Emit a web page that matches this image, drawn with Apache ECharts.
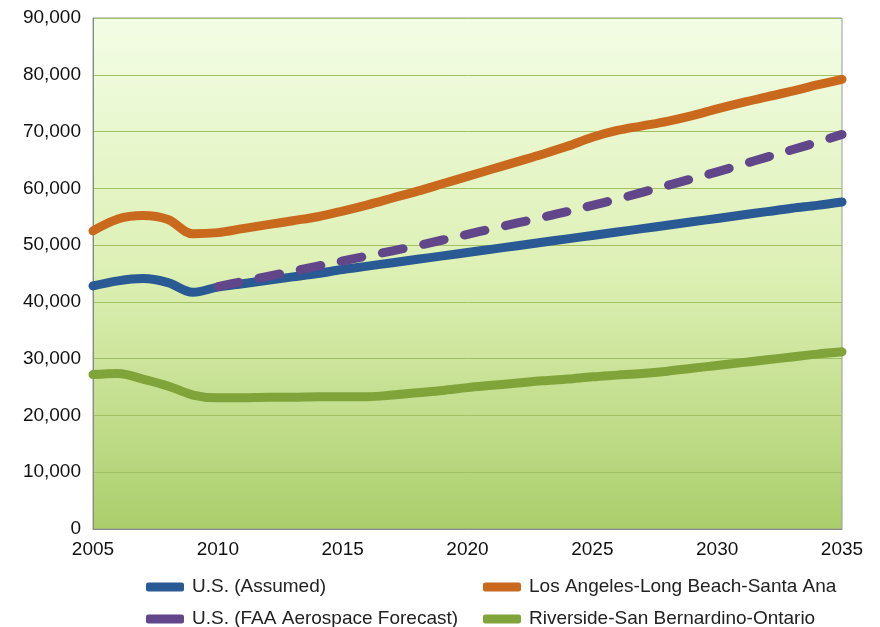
<!DOCTYPE html>
<html>
<head>
<meta charset="utf-8">
<script src="https://cdn.jsdelivr.net/npm/echarts@6/dist/echarts.min.js"></script>
<style>
  html, body { margin: 0; padding: 0; background: #fff; }
  #chart { width: 880px; height: 627px; }
</style>
</head>
<body>
<div id="chart"></div>
<script>
// years on the x axis
const years = [2005, 2006, 2007, 2008, 2009, 2010, 2011, 2012, 2013, 2014, 2015, 2016, 2017, 2018, 2019, 2020,
  2021, 2022, 2023, 2024, 2025, 2026, 2027, 2028, 2029, 2030, 2031, 2032, 2033, 2034, 2035];

// values (thousands)
const usAssumed = [42.8, 43.7, 44.1, 43.4, 41.7, 42.6, 43.2, 43.8, 44.4, 45.0, 45.7, 46.3, 46.9, 47.5, 48.1, 48.7,
  49.3, 49.9, 50.5, 51.1, 51.7, 52.3, 52.9, 53.5, 54.1, 54.7, 55.3, 55.9, 56.5, 57.0, 57.6];
const laLongBeach = [52.5, 54.6, 55.2, 54.5, 52.0, 52.2, 52.9, 53.6, 54.3, 55.0, 56.0, 57.1, 58.3, 59.5, 60.8, 62.1,
  63.4, 64.7, 66.0, 67.4, 69.0, 70.2, 71.0, 71.8, 72.8, 74.0, 75.1, 76.1, 77.1, 78.2, 79.2];
const faaYears = years.slice(5);
const usFaa = [42.7, 43.6, 44.5, 45.4, 46.3, 47.2, 48.1, 49.0, 49.9, 50.9, 51.9,
  52.9, 53.9, 54.9, 55.9, 57.0, 58.1, 59.3, 60.5, 61.7, 62.9, 64.2, 65.5, 66.8, 68.1, 69.5];
const riverside = [27.2, 27.4, 26.4, 25.2, 23.6, 23.1, 23.1, 23.2, 23.2, 23.3, 23.3, 23.3, 23.6, 24.0, 24.4, 24.9,
  25.3, 25.7, 26.1, 26.4, 26.8, 27.1, 27.4, 27.8, 28.3, 28.8, 29.3, 29.8, 30.3, 30.8, 31.2];

const names = ['U.S. (Assumed)', 'U.S. (FAA Aerospace Forecast)', 'Los Angeles-Long Beach-Santa Ana', 'Riverside-San Bernardino-Ontario'];
const colors = ['#2a5a94', '#62468a', '#c9691e', '#80a33a'];

const pairs = (xs, ys) => xs.map((x, i) => [x, ys[i] * 1000]);

const myChart = echarts.init(document.getElementById('chart'));

const lineSeries = (name, data, color, dashed) => ({
  name: name,
  type: 'line',
  data: data,
  smooth: 0.35,
  symbol: 'none',
  color: color,
  lineStyle: {
    color: color,
    width: 9,
    cap: 'round',
    join: 'round',
    type: dashed ? [21, 21] : 'solid'
  }
});

const legendBase = {
  orient: 'vertical',
  top: 576,
  height: 60,
  padding: 0,
  itemGap: 10,
  itemWidth: 38,
  itemHeight: 9,
  icon: 'roundRect',
  textStyle: { fontFamily: 'Liberation Sans', fontSize: 19, lineHeight: 22, color: '#222', padding: [0, 0, 0, 3] }
};

const option = {
  backgroundColor: '#fff',
  animation: false,
  grid: {
    left: 93, right: 38, top: 18, bottom: 98,
    show: true,
    borderColor: '#9a9a9a',
    borderWidth: 1,
    backgroundColor: new echarts.graphic.LinearGradient(0, 0, 0, 1, [
      { offset: 0, color: '#f3fde5' },
      { offset: 0.5, color: '#ddf0b4' },
      { offset: 1, color: '#abce6b' }
    ])
  },
  legend: [
    Object.assign({ left: 146, data: [names[0], names[1]] }, legendBase),
    Object.assign({ left: 483, data: [names[2], names[3]] }, legendBase)
  ],
  xAxis: {
    type: 'value',
    min: 2005,
    max: 2035,
    interval: 5,
    axisLine: { show: true, lineStyle: { color: '#8a8a8a' } },
    axisTick: { show: false },
    splitLine: { show: false },
    axisLabel: {
      margin: 11,
      fontFamily: 'Liberation Sans',
      fontSize: 19,
      color: '#111',
      formatter: v => String(v)
    }
  },
  yAxis: {
    type: 'value',
    min: 0,
    max: 90000,
    interval: 10000,
    axisLine: { show: true, lineStyle: { color: '#8a8a8a' } },
    axisTick: { show: false },
    splitLine: { lineStyle: { color: '#a2c165', width: 1 } },
    axisLabel: {
      margin: 12,
      fontFamily: 'Liberation Sans',
      fontSize: 19,
      color: '#111',
      formatter: v => v.toLocaleString('en-US')
    }
  },
  series: [
    lineSeries(names[3], pairs(years, riverside), colors[3], false),
    lineSeries(names[0], pairs(years, usAssumed), colors[0], false),
    lineSeries(names[2], pairs(years, laLongBeach), colors[2], false),
    lineSeries(names[1], pairs(faaYears, usFaa), colors[1], true)
  ]
};

myChart.setOption(option);
</script>
</body>
</html>
